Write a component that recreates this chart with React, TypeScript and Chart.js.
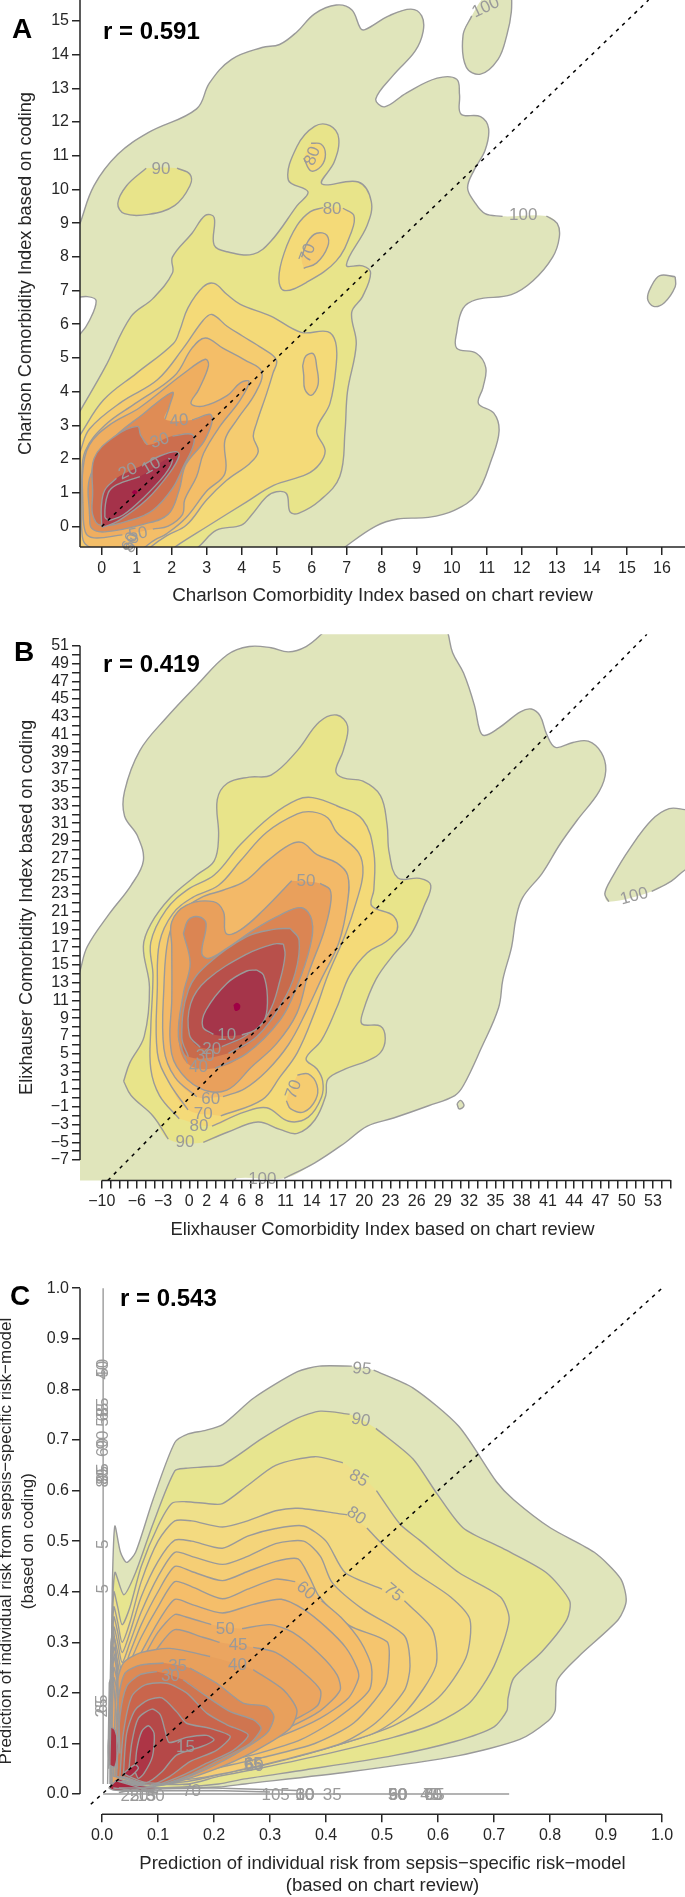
import React, { useEffect, useRef } from "react";
import { Chart, registerables } from "chart.js";
Chart.register(...registerables);

const G = null;
// ---------- Panel A contours (chart review, coding) ----------
const a100 = [-0.62,8.99,-0.22,10.11,0.46,11.04,1.34,11.69,2.71,12.39,3.08,13.16,3.71,13.86,4.58,14.21,5.08,14.3,5.58,14.68,6.08,15.21,6.7,15.47,7.14,15.33,7.39,14.78,7.52,14.74,8.2,15.15,8.83,15.35,9.14,15.15,9.18,14.68,8.95,14.1,8.33,13.39,7.83,12.69,8.08,12.45,8.7,12.86,9.58,13.3,10.14,13.27,10.22,12.81,10.26,12.24,10.82,12.16,11.05,11.81,10.95,11.16,10.64,10.58,10.45,10.05,10.64,9.64,10.95,9.28,11.45,9.2,G,12.7,9.21,13.01,8.99,13.07,8.58,12.88,7.99,12.32,7.29,11.7,6.88,10.7,6.73,10.32,6.47,10.14,5.76,10.14,5.29,10.7,5.14,10.97,4.71,10.89,4.12,10.76,3.65,11.2,3.36,11.35,2.83,11.14,2.01,10.7,0.95,10.07,0.48,9.33,0.27,8.45,0.22,7.83,0.01,6.95,-0.61,6.58,-0.93,-1.2,-1.2,-1.2,5.2,-0.62,5.7,-0.35,6.11,-0.16,6.7,-0.41,6.82,-1.2,6.82,-1.2,8.2];
const a100Top = [11.7,16,11.7,15.27,11.57,14.57,11.32,13.86,10.82,13.42,10.41,13.63,10.32,14.57,10.57,15.15,G,10.9,15.7,11.2,16];
const a100Side = [16.38,7.41,15.94,7.44,15.69,7.11,15.59,6.76,15.76,6.53,16.07,6.64,16.38,7.11];
const a90 = [-0.62,3.42,0.09,4.71,0.84,6.23,1.46,6.76,2.02,7.52,2.02,7.99,2.58,8.7,2.96,9.23,3.21,9.17,3.21,8.35,3.58,8.15,4.33,8.08,4.83,8.46,5.58,9.52,5.89,9.93,5.33,10.28,5.58,11.28,6.08,11.87,6.52,11.89,6.77,11.51,6.64,10.81,6.29,10.16,7.33,10.22,7.7,9.64,7.58,8.93,6.99,7.76,7.45,7.73,7.68,7.52,7.45,6.82,7.14,6.35,7.27,5.41,7.02,4.0,6.95,2.83,6.8,1.48,6.23,0.77,5.62,0.39,5.38,0.43,5.28,0.97,4.99,1.03,4.71,0.88,4.28,0.34,3.99,0.04,3.28,-0.11,2.76,-0.61,2.33,-0.93,-1.2,-1.2,-1.2,2.8];
const a90Blob = [1.27,10.63,G,2.15,10.63,2.52,10.45,2.52,10.11,2.08,9.52,1.34,9.26,0.65,9.28,0.46,9.58,0.71,10.11];
const a80 = [-0.62,2.71,0.05,3.75,1.0,4.55,2.05,5.43,2.23,5.82,2.46,6.48,2.9,7.11,3.21,7.21,3.58,6.88,3.96,6.59,4.83,6.24,5.7,5.76,6.45,5.78,6.68,5.47,6.7,4.82,6.52,3.65,6.14,2.85,6.38,2.26,6.23,1.86,5.86,1.55,4.91,1.22,4.14,0.73,3.0,-0.01,2.09,-0.61,1.6,-1,-1.2,-1.2,-1.2,2.4];
const a80Mid = [6.33,9.46,G,6.89,9.44,7.2,9.23,7.14,8.76,6.7,7.88,5.83,7.23,5.21,7.0,5.06,7.35,5.21,8.11,5.58,8.93,5.96,9.34];
const a80Up = [5.77,10.93,5.98,10.55,6.27,10.69,6.39,11.04,6.27,11.34,5.98,11.37,G];
const a70 = [-0.62,2.21,-0.35,2.89,0.59,3.71,1.59,4.35,2.33,5.29,2.9,6.12,3.15,6.29,3.58,5.94,4.02,5.65,4.58,5.29,4.99,4.94,4.89,4.54,4.71,3.94,4.42,3.05,4.33,2.66,4.47,2.22,4.23,1.87,3.57,1.37,3.0,0.79,2.42,0.04,1.85,-0.28,1.4,-0.61,1.09,-0.93,-1.2,-1.2,-1.2,2];
const a70Up = [5.77,7.66,6.14,7.82,6.45,8.29,6.43,8.64,6.14,8.7,5.89,8.46,5.71,7.99,G];
const a70Low = [5.74,4.77,5.83,5.06,6.05,5.12,6.14,4.74,6.18,4.21,5.98,3.89,5.8,4.08,5.77,4.49];
const a60 = [-0.57,0.36,-0.57,1.42,-0.47,2.24,0.09,3.0,0.96,3.65,2.08,4.47,2.58,5.29,2.96,5.59,3.46,5.29,4.08,4.94,4.57,4.59,4.38,3.94,3.86,3.16,3.52,2.56,3.52,1.57,3.0,1.05,2.4,0.25,1.85,-0.22,1.52,-0.4,0.96,-0.75,0.09,-0.75,-0.47,-0.52,-0.57,-0.11];
const a50 = [-0.54,0.72,-0.54,1.65,-0.35,2.42,0.21,3.0,1.09,3.53,2.33,4.53,2.96,4.96,3.05,4.77,2.77,4.06,2.55,3.65,2.9,3.57,3.58,3.88,3.96,4.26,4.21,4.3,3.95,3.74,3.37,2.96,2.91,2.17,2.71,1.48,2.37,0.79,2.31,0.36,1.9,0.01,1.46,-0.08,G,0.59,-0.25,-0.22,-0.34,-0.47,-0.16];
const a40 = [-0.35,0.36,-0.35,1.42,0.21,2.48,1.21,3.36,2.02,3.98,1.94,3.59,1.81,3.18,G,2.58,3.16,3.13,3.3,2.96,2.59,2.4,1.83,2.21,1.07,1.9,0.36,1.21,0.07,0.09,-0.16,-0.29,-0.05];
const a30 = [-0.26,0.95,-0.22,2.01,0.34,2.65,1.02,2.97,1.11,2.71,1.31,2.42,G,2.02,2.68,2.58,2.73,2.62,2.42,2.33,1.77,2.02,1.13,1.46,0.48,0.84,0.19,-0.04,0.04,-0.26,0.36];
const a20 = [0,0,-0.01,0.59,0.09,1.08,0.42,1.43,G,1.18,1.82,1.66,2.09,2.13,2.22,2.21,2.09,1.94,1.59,1.28,0.79,0.51,0.19,0.04,-0.02];
const a10 = [0.21,0.17,0.09,0.29,0.18,0.98,0.42,1.23,1.09,1.48,G,1.9,2.02,2.02,1.95,1.8,1.53,1.18,0.84,0.61,0.34];
const aSpot = [0.86,1.01,0.94,1.08,1.02,1.01,0.94,0.95];
const aLabelText = ["100","90","80","80","70","100","40","30","20","10","50","60","80"];
const aLabelX = [10.97,1.69,6.02,6.58,5.89,12.04,2.21,1.66,0.75,1.42,1.04,0.82,0.86];
const aLabelY = [15.4,10.61,10.99,9.4,8.11,9.23,3.13,2.54,1.63,1.79,-0.23,-0.45,-0.5];
const aLabelRot = [25,0,70,0,70,0,5,18,25,30,10,70,70];

// ---------- Panel B contours ----------
const b100 = [-13,13,-12.5,14.32,-11.65,17.08,-9.15,20.76,-6.65,23.99,-5.25,26.75,-5.9,29.51,-7.4,31.81,-7.4,34.58,-5.65,39.18,-2.65,42.86,0.85,46.54,4.35,49.99,6.85,50.92,9.35,50.78,11.35,50.32,13.35,50.92,15.1,52.3,15.6,53,29.35,53,29.6,52.3,30.1,50.23,31.35,47.93,32.6,44.25,33.2,41.48,33.75,40.88,35.35,41.71,37.85,43.55,39.1,43.87,40.1,43.09,40.85,41.02,41.85,39.55,43.85,40.1,45.6,40.24,47.1,38.95,47.6,36.88,46.85,34.58,44.35,31.35,42.35,28.59,40.35,25.37,38.1,22.6,37.35,20.3,36.85,17.08,35.85,13.4,35.35,10.17,33.35,5.57,31.35,1.43,30.35,0.27,27.35,-0.88,23.35,-2.26,20.35,-3.18,17.85,-5.02,14.35,-7.32,10.85,-9.07,G,5.35,-9.07,4,-10,-14,-10];
const b100Side = [56.85,32.5,54.85,32.64,52.85,31.35,50.35,28.13,48.35,24.91,47.5,23.07,47.95,22.14,G,52.85,23.29,55.1,24.45,56.85,25.83,58,26,58,32];
const b100Dot = [30.6,-0.65,31.0,-0.28,31.4,-0.88,30.85,-1.24];
const b90 = [-7.5,1.89,-6.8,3.96,-5.15,6.95,-4.55,12.48,-5.25,17.08,-4.4,19.61,-2.15,22.6,0.85,25.14,2.85,26.75,3.35,29.51,3.2,33.65,4.35,35.5,6.85,36.19,9.35,36.42,12.35,39.18,14.85,42.4,16.85,43.19,18.1,41.94,17.6,39.18,16.75,36.88,17.6,36.1,19.85,35.73,21.85,34.11,22.6,30.89,22.85,27.67,23.85,24.81,26.35,24.77,27.6,23.99,26.85,21.68,25.35,18.46,23.35,16.16,21.35,13.4,19.85,9.71,19.75,8.33,21.85,8.1,22.4,6.72,21.85,5.11,20.35,4.19,17.85,3.27,15.85,2.12,15.6,0.27,14.35,-2.49,12.35,-4.0,10.35,-3.55,7.85,-2.72,4.35,-3.87,1.6,-5.02,G,-2.4,-4.65,-4.15,-2.03,-6.65,0.27];
const b80 = [-1.15,-2.35,-3.4,0.27,-4.4,3.27,-4.4,7.87,-4.15,13.86,-4.4,17.54,-2.65,21.22,-0.15,23.52,2.85,25.14,5.85,28.59,9.35,31.81,12.35,33.65,14.1,33.88,16.85,32.96,19.85,31.35,21.1,27.67,21.1,23.52,20.85,21.68,23.35,20.53,23.75,18.92,22.35,17.54,20.35,16.39,18.35,13.86,16.85,10.17,15.1,6.49,13.35,4.42,14.6,3.27,15.25,1.89,15.1,0.04,13.6,-2.17,11.35,-2.63,8.85,-1.11,6.35,-1.57,2.6,-3.18,G];
const b70Arc = [12.35,2.58,13.6,2.71,14.6,1.43,14.45,-0.19,13.1,-1.57,11.6,-1.24,11.1,-0.32,G];
const b70 = [3.6,-2.03,8.35,-0.19,10.35,2.35,12.35,5.11,14.35,9.71,15.85,13.86,17.85,18.46,19.1,22.14,19.85,25.37,19.35,27.67,16.85,29.97,15.85,31.58,14.1,32.27,12.35,32.04,8.85,29.97,5.85,26.75,3.35,23.99,0.35,22.6,-1.9,20.76,-3.4,17.54,-3.65,12.48,-3.65,5.11,-2.4,1.89,-0.15,-1.34,G];
const b60 = [3.85,0.14,6.35,1.06,8.85,3.04,11.35,6.03,13.35,9.71,15.1,13.4,17.1,17.54,18.1,22.14,18.1,25.14,16.85,26.52,14.6,27.44,12.85,28.82,11.35,28.5,8.85,26.66,6.35,24.45,3.85,23.43,1.35,22.6,-1.15,20.76,-2.4,17.99,-2.9,12.48,-2.9,5.57,-1.65,2.35,0.85,0.14,G];
const b50 = [11.71,24.5,8.48,21.2,5.81,18.94,4.21,18.56,3.91,21.0,2.76,22.14,-0.29,21.76,-2,19.88,-2,17.06,-2,11.05,-2.19,6.53,-1.43,3.53,1.24,1.08,4.29,0.89,7.14,3.53,10.0,6.16,12.29,9.54,13.62,14.05,15.33,18.56,16.1,21.57,16.1,23.45,14.95,24.2,G];
const b40 = [-0.67,18.56,0.1,15.18,-0.67,11.8,-1.24,6.91,-0.21,3.9,G,2.95,3.34,6.57,5.03,10.38,8.79,12.29,12.55,13.81,17.06,14.0,20.07,12.82,21.46,10.38,20.63,7.33,18.94,4.29,16.87,2.19,15.74,1.43,16.31,1.92,19.69,1.05,20.44,-0.1,20.07];
const b30 = [11.52,19.13,12.55,17.81,12.1,14.05,10.57,10.67,7.71,6.91,4.48,5.03,G,-0.1,4.65,-0.86,6.91,-0.1,12.17,2.0,14.99,6.57,18.19,9.62,19.01];
const b20 = [10.76,17.36,10.95,16.12,10.38,13.3,9.05,9.54,6.57,7.1,3.71,5.78,G,1.24,5.71,0.02,7.1,0.17,10.67,2.0,13.3,6.57,16.23,9.62,17.36];
const b10 = [7.71,14.43,8.48,13.87,8.93,11.42,8.67,8.98,7.52,7.66,6.0,7.1,G,2.76,7.17,1.54,8.04,1.92,9.92,4.29,12.92,6.57,14.32];
const bSpot = [5.05,10.48,5.43,10.74,5.81,10.48,5.73,9.99,5.24,9.84];
const bLabelText = ["10","20","30","40","60","70","80","90","100","70","50","100"];
const bLabelX = [4.29,2.57,1.81,1.05,2.45,1.6,1.1,-0.5,8.35,11.95,13.35,50.85];
const bLabelY = [7.02,5.48,4.73,3.41,-0.19,-1.89,-3.18,-5.02,-9.16,0.96,24.45,22.74];
const bLabelRot = [0,0,0,0,0,0,0,0,0,70,0,15];

// ---------- Panel C contours ----------
const c95 = [0.02,0.01,0.018,0.333,0.019,0.438,0.023,0.53,0.033,0.478,0.044,0.458,0.06,0.478,0.091,0.582,0.13,0.695,0.154,0.712,0.185,0.719,0.216,0.731,0.271,0.783,0.349,0.835,0.388,0.846,0.446,0.846,G,0.485,0.838,0.555,0.803,0.637,0.727,0.704,0.618,0.735,0.582,0.801,0.526,0.879,0.478,0.926,0.426,0.936,0.382,0.922,0.345,0.852,0.273,0.813,0.225,0.809,0.165,0.797,0.145,0.746,0.108,0.637,0.076,0.442,0.044,0.255,0.02,0.208,0.014,0.1,0.01];
const c90 = [0.016,0.02,0.017,0.3,0.023,0.438,0.039,0.394,0.06,0.438,0.091,0.534,0.13,0.639,0.15,0.644,0.185,0.647,0.216,0.651,0.286,0.703,0.349,0.743,0.39,0.757,0.442,0.751,G,0.489,0.723,0.555,0.663,0.598,0.594,0.645,0.526,0.715,0.486,0.793,0.438,0.835,0.382,0.83,0.345,0.785,0.281,0.735,0.229,0.725,0.189,0.723,0.165,0.7,0.133,0.63,0.104,0.52,0.076,0.364,0.048,0.255,0.03,0.208,0.02,0.146,0.014,0.05,0.012];
const c85 = [0.015,0.02,0.015,0.2,0.021,0.4,0.028,0.37,0.036,0.335,0.05,0.37,0.07,0.45,0.1,0.53,0.125,0.575,0.15,0.578,0.19,0.574,0.215,0.574,0.26,0.61,0.31,0.65,0.38,0.667,0.43,0.655,G,0.49,0.6,0.532,0.534,0.567,0.502,0.637,0.438,0.711,0.39,0.727,0.345,0.7,0.253,0.657,0.181,0.598,0.141,0.52,0.112,0.403,0.08,0.286,0.052,0.208,0.035,0.154,0.02];
const c80 = [0.015,0.02,0.015,0.2,0.021,0.37,0.028,0.34,0.036,0.3,0.05,0.34,0.07,0.42,0.1,0.5,0.13,0.54,0.16,0.54,0.215,0.528,0.26,0.54,0.31,0.56,0.35,0.565,0.42,0.555,0.438,0.552,G,0.473,0.526,0.497,0.498,0.556,0.44,0.622,0.39,0.657,0.345,0.65,0.27,0.6,0.19,0.52,0.135,0.4,0.09,0.28,0.055,0.2,0.038,0.13,0.022];
const c75 = [0.015,0.02,0.015,0.18,0.021,0.35,0.028,0.32,0.036,0.28,0.05,0.32,0.07,0.39,0.1,0.46,0.13,0.502,0.16,0.5,0.215,0.486,0.26,0.51,0.31,0.525,0.36,0.53,0.4,0.5,0.434,0.438,0.5,0.405,G,0.54,0.382,0.59,0.325,0.596,0.253,0.544,0.165,0.485,0.12,0.364,0.08,0.278,0.056,0.2,0.036,0.146,0.024];
const c70 = [0.015,0.02,0.016,0.18,0.021,0.33,0.028,0.3,0.036,0.26,0.05,0.3,0.07,0.36,0.1,0.43,0.13,0.478,0.16,0.47,0.215,0.454,0.26,0.47,0.31,0.495,0.36,0.5,0.39,0.47,0.411,0.418,0.466,0.365,0.54,0.313,0.55,0.253,0.54,0.205,0.489,0.141,0.427,0.1,0.325,0.068,0.24,0.046,0.161,0.03];
const c65 = [0.016,0.02,0.016,0.17,0.021,0.31,0.028,0.28,0.036,0.24,0.05,0.28,0.07,0.335,0.1,0.4,0.13,0.45,0.16,0.44,0.215,0.422,0.26,0.44,0.31,0.46,0.35,0.465,0.37,0.43,0.388,0.39,0.442,0.333,0.509,0.301,0.512,0.253,0.505,0.213,0.45,0.141,0.38,0.1,0.286,0.072,0.208,0.052,0.146,0.036];
const c60 = [0.016,0.02,0.016,0.16,0.021,0.29,0.028,0.26,0.036,0.22,0.05,0.26,0.07,0.31,0.1,0.37,0.13,0.42,0.16,0.41,0.215,0.386,0.26,0.405,0.31,0.425,0.345,0.42,G,0.392,0.382,0.427,0.349,0.462,0.301,0.481,0.253,0.477,0.205,0.419,0.149,0.356,0.108,0.278,0.08,0.2,0.06,0.138,0.044];
const c55 = [0.017,0.02,0.017,0.15,0.021,0.27,0.028,0.24,0.036,0.2,0.05,0.24,0.07,0.28,0.1,0.34,0.13,0.385,0.16,0.375,0.215,0.358,0.27,0.375,0.32,0.385,0.36,0.365,0.4,0.33,0.435,0.29,0.455,0.25,0.458,0.229,0.44,0.19,0.39,0.15,0.32,0.115,0.25,0.09,0.18,0.068,0.12,0.05];
const c50 = [0.017,0.02,0.017,0.14,0.021,0.25,0.028,0.22,0.036,0.18,0.05,0.21,0.07,0.26,0.1,0.32,0.13,0.355,0.15,0.35,0.195,0.335,G,0.25,0.327,0.3,0.335,0.34,0.32,0.39,0.275,0.42,0.235,0.425,0.205,0.39,0.165,0.33,0.13,0.26,0.1,0.19,0.075,0.12,0.055];
const c45 = [0.018,0.02,0.018,0.13,0.021,0.23,0.028,0.2,0.036,0.16,0.05,0.19,0.07,0.24,0.1,0.29,0.13,0.325,0.18,0.31,0.21,0.3,G,0.27,0.29,0.31,0.28,0.36,0.24,0.39,0.205,0.385,0.175,0.34,0.145,0.27,0.112,0.2,0.08,0.125,0.055];
const c40 = [0.02,0.035,0.026,0.213,0.038,0.259,0.068,0.279,0.121,0.288,0.193,0.272,G,0.27,0.246,0.324,0.206,0.348,0.166,0.336,0.13,0.276,0.087,0.199,0.048,0.116,0.021];
const c35 = [0.023,0.035,0.029,0.186,0.041,0.239,0.068,0.255,0.11,0.259,G,0.157,0.249,0.205,0.219,0.252,0.18,0.294,0.173,0.307,0.153,0.294,0.12,0.235,0.077,0.169,0.041,0.104,0.018];
const c30 = [0.026,0.035,0.032,0.153,0.044,0.213,0.068,0.236,0.098,0.242,G,0.145,0.226,0.187,0.193,0.229,0.163,0.27,0.147,0.284,0.13,0.264,0.1,0.21,0.068,0.157,0.038,0.098,0.018];
const c25 = [0.032,0.035,0.038,0.12,0.053,0.193,0.077,0.216,0.116,0.219,0.151,0.2,0.187,0.16,0.223,0.137,0.261,0.117,0.235,0.087,0.187,0.061,0.139,0.035,0.092,0.018];
const c20 = [0.038,0.035,0.044,0.12,0.059,0.166,0.083,0.186,0.107,0.19,0.133,0.163,0.151,0.14,0.193,0.13,0.229,0.114,0.205,0.087,0.157,0.064,0.121,0.035,0.086,0.018];
const c15 = [0.047,0.035,0.053,0.1,0.065,0.15,0.089,0.168,0.104,0.157,0.113,0.124,0.12,0.102,0.151,0.112,0.187,0.116,0.2,0.107,0.178,0.094,0.133,0.077,0.107,0.044,0.08,0.023];
const c10 = [0.059,0.044,0.062,0.087,0.071,0.124,0.083,0.135,0.093,0.12,0.09,0.074,0.075,0.041,0.065,0.031];
const cFinger = [0.014,0.134,0.023,0.127,0.029,0.094,0.023,0.054,0.014,0.058,0.011,0.094];
const cLoop = [0.038,0.041,0.059,0.058,0.065,0.051,0.05,0.035];
const cBase = [0.012,0.012,0.03,0.03,0.05,0.02,0.1,0.012,0.06,0.006,0.02,0.008];
const cVertLine = [0.002,1,0.002,0.02];
const cHorizLine = [0.002,0,0.727,0];
const cFlatA = [0.03,0.012,0.2,0.012,0.35,0.007];
const cFlatB = [0.05,0.006,0.2,0.007,0.3,0.004];
const cFlatC = [0.03,0.003,0.12,0.02,0.03,0.025,0.1,0.002,0.02,0.012];
const cFingerA = [0.012,0.05,0.016,0.3,0.02,0.33,0.028,0.25,0.03,0.1];
const cFingerB = [0.014,0.06,0.018,0.26,0.024,0.28,0.03,0.16,0.032,0.08];
const cFingerC = [0.01,0.02,0.013,0.22,0.019,0.24,0.026,0.15,0.027,0.05];
const cLabelText = ["50","40","85","65","55","90","60","95","85","80","5","5","65","25","105","10","30","60","35","50","90","60","45","70","65","55","25","20","15","30","70","65","60","55","50","45","40","35","30","15","95","90","85","80","75","60"];
const cLabelX = [0.002,0.002,0.002,0.002,0.002,0.002,0.002,0.002,0.002,0.002,0.002,0.002,0.001,0.001,0.31,0.362,0.363,0.362,0.411,0.527,0.528,0.529,0.585,0.59,0.592,0.595,0.05,0.066,0.08,0.095,0.16,0.27,0.272,0.27,0.22,0.243,0.242,0.135,0.122,0.149,0.464,0.462,0.458,0.454,0.52,0.364];
const cLabelY = [0.842,0.838,0.765,0.755,0.745,0.70,0.685,0.635,0.63,0.625,0.494,0.406,0.178,0.17,-0.002,-0.002,-0.002,-0.002,-0.002,-0.002,-0.002,-0.002,-0.002,-0.002,-0.002,-0.002,-0.004,-0.004,-0.004,-0.004,0.005,0.058,0.054,0.056,0.326,0.295,0.255,0.253,0.233,0.092,0.84,0.739,0.624,0.55,0.398,0.402];
const cLabelRot = [90,90,90,90,90,90,90,90,90,90,90,90,90,90,0,0,0,0,0,0,0,0,0,0,0,0,0,0,0,0,0,0,0,0,0,0,0,0,0,0,-5,-12,-30,-35,-40,-40];

// ---------- axes ----------
const aXTicks = [0,1,2,3,4,5,6,7,8,9,10,11,12,13,14,15,16];
const aYTicks = [0,1,2,3,4,5,6,7,8,9,10,11,12,13,14,15];
const bXTickMarks = Array.from({ length: 66 }, (_, i) => i - 10);
const bXTickLabels = [-10,-6,-3,0,2,4,6,8,11,14,17,20,23,26,29,32,35,38,41,44,47,50,53];
const bYTickMarks = Array.from({ length: 59 }, (_, i) => i - 7);
const bYTickLabels = [-7,-5,-3,-1,1,3,5,7,9,11,13,15,17,19,21,23,25,27,29,31,33,35,37,39,41,43,45,47,49,51];
const cTicks = [0,0.1,0.2,0.3,0.4,0.5,0.6,0.7,0.8,0.9,1];

const GREY = "#9a9a9a";
const INK = "#262626";
const SANS = "'Liberation Sans', Arial, sans-serif";

type Layer = { pts: (number | null)[]; col: string | null; bare?: boolean };

const panelALayers: Layer[] = [
  { pts: a100, col: "#E0E5BB" }, { pts: a100Top, col: "#E0E5BB" }, { pts: a100Side, col: "#E0E5BB" },
  { pts: a90, col: "#E8E48A" }, { pts: a90Blob, col: "#E8E48A" },
  { pts: a80, col: "#F4DA78" }, { pts: a80Mid, col: "#F4DA78" }, { pts: a80Up, col: "#F4DA78" },
  { pts: a70, col: "#F5CC70" }, { pts: a70Up, col: "#F5CC70" }, { pts: a70Low, col: "#F5CC70" },
  { pts: a60, col: "#F4BE68" }, { pts: a50, col: "#EFAE60" }, { pts: a40, col: "#DF8C55" },
  { pts: a30, col: "#CC6E4E" }, { pts: a20, col: "#B0404A" }, { pts: a10, col: "#A5324A" }, { pts: aSpot, col: "#A00045", bare: true },
];
const panelBLayers: Layer[] = [
  { pts: b100, col: "#E0E5BB" }, { pts: b100Side, col: "#E0E5BB" }, { pts: b100Dot, col: "#E0E5BB" },
  { pts: b90, col: "#E8E48A" }, { pts: b80, col: "#F4DA78" }, { pts: b70Arc, col: "#F5CC70" },
  { pts: b70, col: "#F5CC70" }, { pts: b60, col: "#F3B968" }, { pts: b50, col: "#E9A05C" },
  { pts: b40, col: "#DB8553" }, { pts: b30, col: "#C86B4C" }, { pts: b20, col: "#B8504B" },
  { pts: b10, col: "#A5354A" }, { pts: bSpot, col: "#A00045", bare: true },
];
const panelCLayers: Layer[] = [
  { pts: c95, col: "#E0E5BB" }, { pts: c90, col: "#E7E58F" }, { pts: c85, col: "#EFE08A" },
  { pts: c80, col: "#F3DA80" }, { pts: c75, col: "#F4D47A" }, { pts: c70, col: "#F5CE75" },
  { pts: c65, col: "#F5C56E" }, { pts: c60, col: "#F5BE6A" }, { pts: c55, col: "#F3B668" },
  { pts: c50, col: "#EFAE63" }, { pts: c45, col: "#EBA560" }, { pts: c40, col: "#E8A05C" },
  { pts: c35, col: "#DD8A55" }, { pts: c30, col: "#CF7550" }, { pts: c25, col: "#C9654C" },
  { pts: c20, col: "#BE5549" }, { pts: c15, col: "#B54848" }, { pts: c10, col: "#AD3546" },
  { pts: cFinger, col: "#AD3546" }, { pts: cLoop, col: "#A82840" }, { pts: cBase, col: "#A82840" },
  { pts: cVertLine, col: null }, { pts: cHorizLine, col: null }, { pts: cFlatA, col: null },
  { pts: cFlatB, col: null }, { pts: cFlatC, col: null }, { pts: cFingerA, col: null },
  { pts: cFingerB, col: null }, { pts: cFingerC, col: null },
];

function strokePoints(flat: (number | null)[]) {
  const out: { x: number; y: number }[] = [];
  let i = 0;
  while (i < flat.length) {
    if (flat[i] === null) { out.push({ x: NaN, y: NaN }); i += 1; }
    else { out.push({ x: flat[i] as number, y: flat[i + 1] as number }); i += 2; }
  }
  return out;
}

function buildDatasets(layers: Layer[], diagFrom: number, diagTo: number, tension: number) {
  const sets: any[] = [];
  layers.forEach((l, idx) => {
    const raw = strokePoints(l.pts);
    const endsInGap = l.pts[l.pts.length - 1] === null;
    if (l.col) {
      const solid = raw.filter((p) => !isNaN(p.x));
      sets.push({
        data: [...solid, solid[0]], showLine: true, fill: "shape", backgroundColor: l.col,
        borderWidth: 0, borderColor: "transparent", pointRadius: 0, tension, capBezierPoints: false,
        order: 2000 - 2 * idx, clip: 0,
      });
    }
    if (l.bare) return;
    sets.push({
      data: l.col && !endsInGap ? [...raw, raw[0]] : raw, showLine: true, fill: false,
      borderColor: GREY, borderWidth: 1.4, pointRadius: 0, tension: l.col ? tension : 0,
      capBezierPoints: false, spanGaps: false, order: 2000 - 2 * idx - 1, clip: 0,
    });
  });
  sets.push({
    data: [{ x: diagFrom, y: diagFrom }, { x: diagTo, y: diagTo }], showLine: true, fill: false,
    borderColor: "#000", borderWidth: 1.5, borderDash: [3.5, 5], pointRadius: 0, order: 0, clip: 0,
  });
  return sets;
}

const contourLabels = {
  id: "contourLabels",
  afterDatasetsDraw(chart: any, _a: any, opts: any) {
    const { ctx, chartArea, scales } = chart;
    ctx.save();
    ctx.beginPath();
    ctx.rect(0, chartArea.top, chart.width, chartArea.bottom - chartArea.top + 12);
    ctx.clip();
    ctx.font = `17px ${SANS}`;
    ctx.fillStyle = GREY;
    ctx.textAlign = "center";
    ctx.textBaseline = "middle";
    (opts.text as string[]).forEach((t, i) => {
      ctx.save();
      ctx.translate(scales.x.getPixelForValue(opts.x[i]), scales.y.getPixelForValue(opts.y[i]));
      ctx.rotate((-opts.rot[i] * Math.PI) / 180);
      ctx.fillText(t, 0, 0);
      ctx.restore();
    });
    ctx.restore();
  },
};

const rangedAxes = {
  id: "rangedAxes",
  afterDraw(chart: any, _a: any, opts: any) {
    const { ctx, scales, chartArea } = chart;
    ctx.save();
    ctx.strokeStyle = INK;
    ctx.lineWidth = 1.5;
    const xa = opts.x ?? [scales.x.min, scales.x.max];
    const ya = opts.y ?? [scales.y.min, scales.y.max];
    ctx.beginPath();
    ctx.moveTo(scales.x.getPixelForValue(xa[0]), chartArea.bottom);
    ctx.lineTo(scales.x.getPixelForValue(xa[1]), chartArea.bottom);
    ctx.moveTo(chartArea.left, scales.y.getPixelForValue(ya[0]));
    ctx.lineTo(chartArea.left, scales.y.getPixelForValue(ya[1]));
    ctx.stroke();
    ctx.restore();
  },
};

const fmtMinus = (v: number) => String(v).replace("-", "\u2212");

function axisOptions(a: {
  min: number; max: number; marks: number[]; label: (v: number) => string;
  title: string | string[]; fit: number; horizontal: boolean; titlePad: any; titleSize: number; titleLine?: number;
}) {
  return {
    type: "linear",
    min: a.min,
    max: a.max,
    position: a.horizontal ? "bottom" : "left",
    border: { display: false },
    grid: { display: true, drawOnChartArea: false, drawTicks: true, tickLength: 8, color: INK, lineWidth: 1.5 },
    ticks: {
      autoSkip: false, maxRotation: 0, minRotation: 0, includeBounds: false,
      padding: a.horizontal ? 4 : 3, color: INK, font: { family: SANS, size: 16 },
      callback: (v: number) => a.label(v),
    },
    afterBuildTicks: (s: any) => { s.ticks = a.marks.map((value) => ({ value })); },
    afterFit: (s: any) => {
      if (a.horizontal) s.height = a.fit; else s.width = a.fit;
      s.paddingTop = 0; s.paddingBottom = 0; s.paddingLeft = 0; s.paddingRight = 0;
    },
    title: {
      display: true, text: a.title, color: INK, padding: a.titlePad,
      font: { family: SANS, size: a.titleSize, lineHeight: a.titleLine ?? 1.2 },
    },
  };
}

function usePanel(ref: React.RefObject<HTMLCanvasElement | null>, cfg: () => any) {
  useEffect(() => {
    if (!ref.current) return;
    const c = new Chart(ref.current, cfg());
    return () => c.destroy();
  }, []);
}

function panelConfig(p: any) {
  return {
    type: "scatter",
    data: { datasets: buildDatasets(p.layers, p.diag[0], p.diag[1], p.tension) },
    plugins: [contourLabels, rangedAxes],
    options: {
      animation: false, responsive: false, devicePixelRatio: 1,
      layout: { autoPadding: false, padding: { top: p.top, left: 0, right: 0, bottom: 0 } },
      plugins: {
        legend: { display: false }, tooltip: { enabled: false },
        contourLabels: p.labels, rangedAxes: p.ranges,
      },
      scales: { x: axisOptions(p.x), y: axisOptions(p.y) },
    },
  };
}

function Text({ left, top, size, children }: any) {
  return (
    <div style={{ position: "absolute", left, top, fontFamily: SANS, fontWeight: 700, fontSize: size, lineHeight: 1, color: "#000", whiteSpace: "nowrap" }}>
      {children}
    </div>
  );
}

export default function App() {
  const ra = useRef<HTMLCanvasElement>(null);
  const rb = useRef<HTMLCanvasElement>(null);
  const rc = useRef<HTMLCanvasElement>(null);
  usePanel(ra, () => panelConfig({
    layers: panelALayers, diag: [0, 15.62], tension: 0.38, top: 0,
    labels: { text: aLabelText, x: aLabelX, y: aLabelY, rot: aLabelRot }, ranges: {},
    x: { min: -0.62, max: 16.66, marks: aXTicks, label: (v: number) => String(v), title: "Charlson Comorbidity Index based on chart review", fit: 60, horizontal: true, titlePad: { top: 0, bottom: 0 }, titleSize: 18.8 },
    y: { min: -0.61, max: 15.62, marks: aYTicks, label: (v: number) => String(v), title: "Charlson Comorbidity Index based on coding", fit: 80, horizontal: false, titlePad: { top: 15, bottom: 0 }, titleSize: 18.2 },
  }));
  usePanel(rb, () => panelConfig({
    layers: panelBLayers, diag: [-9.3, 52.3], tension: 0.38, top: 14.3,
    labels: { text: bLabelText, x: bLabelX, y: bLabelY, rot: bLabelRot }, ranges: { x: [-10, 55], y: [-7, 51] },
    x: { min: -12.49, max: 56.66, marks: bXTickMarks, label: (v: number) => (bXTickLabels.includes(v) ? fmtMinus(v) : ""), title: "Elixhauser Comorbidity Index based on chart review", fit: 60.6, horizontal: true, titlePad: { top: 0, bottom: 0 }, titleSize: 18.4 },
    y: { min: -9.3, max: 52.3, marks: bYTickMarks, label: (v: number) => (bYTickLabels.includes(v) ? fmtMinus(v) : ""), title: "Elixhauser Comorbidity Index based on coding", fit: 80, horizontal: false, titlePad: { top: 16, bottom: 0 }, titleSize: 18.2 },
  }));
  usePanel(rc, () => panelConfig({
    layers: panelCLayers, diag: [-0.02, 1], tension: 0.25, top: 8,
    labels: { text: cLabelText, x: cLabelX, y: cLabelY, rot: cLabelRot }, ranges: { x: [0, 1], y: [0, 1] },
    x: { min: -0.0393, max: 1.041, marks: cTicks, label: (v: number) => v.toFixed(1), title: ["Prediction of individual risk from sepsis\u2212specific risk\u2212model", "(based on chart review)"], fit: 82.7, horizontal: true, titlePad: { top: 0, bottom: 0 }, titleSize: 18.5 },
    y: { min: -0.04, max: 1.04, marks: cTicks, label: (v: number) => v.toFixed(1), title: ["Prediction of individual risk from sepsis\u2212specific risk\u2212model", "(based on coding)"], fit: 80, horizontal: false, titlePad: { top: -5, bottom: 0 }, titleSize: 17, titleLine: 1.3 },
  }));
  return (
    <div style={{ position: "absolute", left: 0, top: 0, width: 685, height: 1897, overflow: "hidden", background: "#fff" }}>
      <canvas ref={ra} width={685} height={607} style={{ position: "absolute", left: 0, top: 0 }} />
      <canvas ref={rb} width={685} height={621} style={{ position: "absolute", left: 0, top: 620 }} />
      <canvas ref={rc} width={685} height={637} style={{ position: "absolute", left: 0, top: 1260 }} />
      <Text left={12} top={15} size={28}>A</Text>
      <Text left={103} top={19} size={24}>r = 0.591</Text>
      <Text left={14} top={638} size={28}>B</Text>
      <Text left={103} top={652} size={24}>r = 0.419</Text>
      <Text left={10} top={1282} size={28}>C</Text>
      <Text left={120} top={1286} size={24}>r = 0.543</Text>
    </div>
  );
}
